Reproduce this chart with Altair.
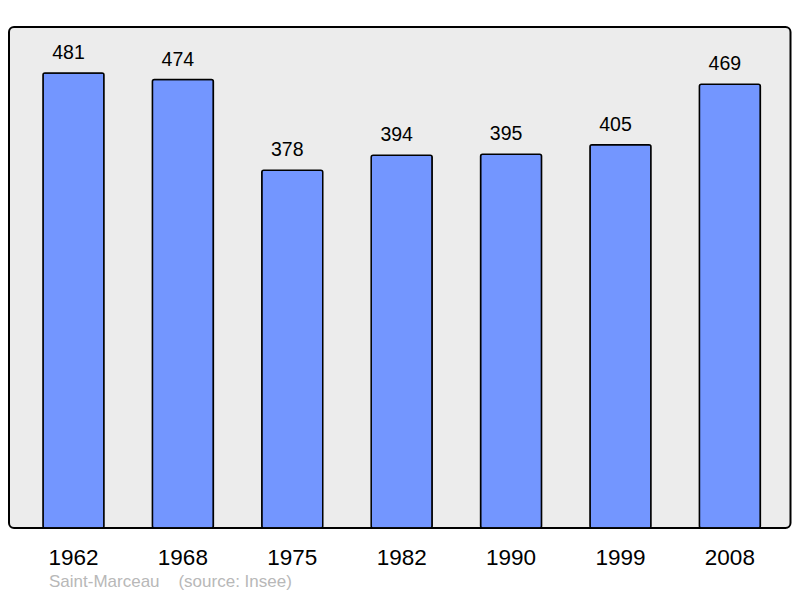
import altair as alt
import pandas as pd

years = ["1962", "1968", "1975", "1982", "1990", "1999", "2008"]
population = [481, 474, 378, 394, 395, 405, 469]
caption = "Saint-Marceau\u00a0\u00a0\u00a0\u00a0(source: Insee)"

df = pd.DataFrame({"year": years, "pop": population})

FONT = "Liberation Sans"

x = alt.X(
    "year:N",
    sort=years,
    title=None,
    scale=alt.Scale(paddingInner=0.4424, paddingOuter=0.293, align=0.53),
    axis=alt.Axis(
        labelAngle=0, ticks=False, tickSize=0, domain=False, grid=False,
        labelFontSize=22.5, labelPadding=18, labelColor="black", labelFont=FONT,
    ),
)
y = alt.Y("pop:Q", scale=alt.Scale(domain=[0, 529.5], nice=False, zero=True), axis=None)

base = alt.Chart(df)
bars = base.mark_bar(
    color="#7396ff", stroke="black", strokeWidth=1.5, cornerRadius=2
).encode(x=x, y=y)
labels = base.mark_text(
    dy=-14, dx=-5, baseline="alphabetic", fontSize=19.5, font=FONT, color="black"
).encode(x=x, y=y, text="pop:Q")

chart = (
    (bars + labels)
    .properties(
        width=781.5,
        height=501,
        padding={"left": 1, "top": 19, "right": 1, "bottom": 62},
        autosize=alt.AutoSizeParams(type="none"),
        title=alt.TitleParams(
            caption, orient="bottom", anchor="start", dx=40, offset=5,
            fontSize=17, font=FONT, color="#b8b8b8", fontWeight="normal",
        ),
    )
    .configure_view(fill="#ececec", stroke="black", strokeWidth=2, cornerRadius=5)
)

chart.save("out.html", embed_options={"renderer": "svg", "actions": False})
